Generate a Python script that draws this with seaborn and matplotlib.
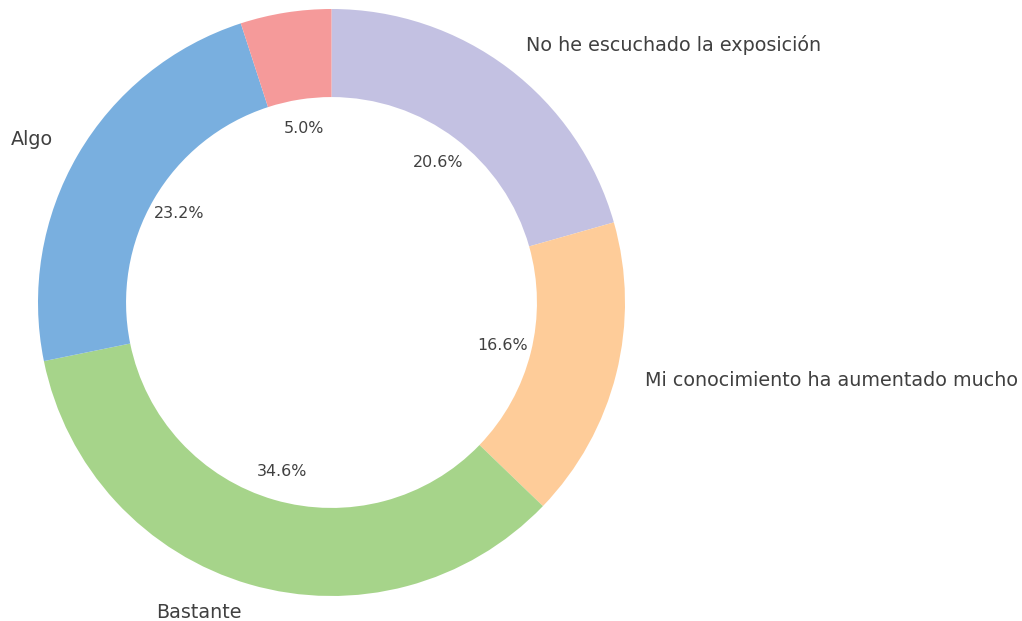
import matplotlib
matplotlib.use("Agg")
import matplotlib.pyplot as plt
import seaborn as sns

categories = ["No he escuchado la exposición", "Mi conocimiento ha aumentado mucho",
              "Bastante", "Algo", "Poco"]
shown_labels = ["No he escuchado la exposición", "Mi conocimiento ha aumentado mucho",
                "Bastante", "Algo", ""]
values = [20.6, 16.6, 34.6, 23.2, 5.0]
colors = ["#c3c1e2", "#fecc99", "#a6d48a", "#79afdf", "#f59a9a"]

sns.set_style("white")
plt.rcParams["font.family"] = ["DejaVu Sans"]

fig = plt.figure(figsize=(10.22, 6.21), dpi=100)
ax = fig.add_axes([38 / 1022, 25 / 621, 587 / 1022, 587 / 621])
wedges, texts, autotexts = ax.pie(
    values, labels=shown_labels, colors=colors, startangle=90, counterclock=False,
    autopct="%1.1f%%", pctdistance=0.6, labeldistance=1.1,
    wedgeprops=dict(width=0.3, linewidth=0),
    textprops=dict(color="#404040"))
for t in texts:
    t.set_fontsize(13.75)
for t in autotexts:
    t.set_fontsize(11.45)
ax.set_xlim(-1, 1)
ax.set_ylim(-1, 1)
ax.set_aspect("equal")
fig.savefig("out.png", dpi=100)
